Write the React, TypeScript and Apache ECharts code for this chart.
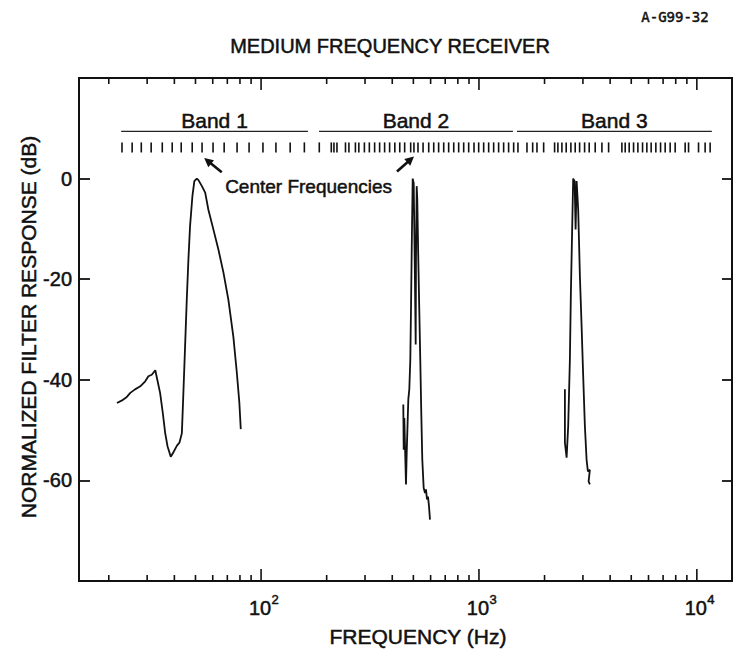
import React, { useEffect, useRef } from "react";
import * as echarts from "echarts";

const FONT = "'Liberation Sans', Arial, Helvetica, sans-serif";
const INK = "#111";
const TEXT_EDGE = 0.5;

// Axis ranges
const X_MIN = 14.6;
const X_MAX = 14500;
const Y_MIN = -80;
const Y_MAX = 20;

// Filter responses: [frequency Hz, normalized response dB]
const band1Response: [number, number][] = [
  [21.8, -44.6], [23.0, -44.1], [24.2, -43.4], [25.1, -42.6], [26.4, -41.9],
  [27.9, -41.3], [29.4, -40.3], [30.4, -39.3], [31.5, -39.0], [32.7, -38.1],
  [33.4, -40.0], [34.4, -42.6], [35.4, -46.6], [36.3, -50.6], [37.2, -53.2],
  [38.5, -55.3], [39.6, -54.4], [41.1, -53.1], [42.2, -52.5], [43.3, -50.6],
  [44.0, -42.6], [44.8, -33.3], [45.6, -24.1], [46.4, -16.1], [47.2, -9.5],
  [48.4, -3.5], [49.4, -0.5], [50.7, 0], [51.6, -0.3], [53.5, -1.5],
  [55.4, -2.8], [57.3, -6.2], [60.4, -10.1], [63.7, -14.1], [67.2, -18.7],
  [70.8, -24.1], [74.6, -31.4], [77.4, -38.6], [79.5, -44.6], [80.7, -49.8],
];

const band2Response: [number, number][] = [
  [449.5, -44.9], [451.4, -53.9], [454.3, -47.6], [462.5, -60.8], [466.0, -54.5],
  [474.0, -43.9], [479.0, -41.9], [484.1, -36.0], [487.6, -26.0], [492.9, -9.5],
  [496.5, 0], [501.8, -0.9], [507.1, -16.1], [512.4, -33.0], [514.0, -16.1],
  [517.9, -1.5], [521.2, -4.2], [526.8, -16.1], [532.2, -26.0], [537.9, -36.0],
  [543.6, -46.6], [549.5, -55.9], [557.6, -61.5], [565.4, -62.5], [571.3, -61.8],
  [577.5, -63.8], [583.6, -63.2], [589.7, -65.1], [596.0, -67.8],
];

const band3Response: [number, number][] = [
  [2480, -41.9], [2480, -52.5], [2525, -55.5], [2568, -49.2], [2614, -36.0],
  [2642, -22.7], [2670, -12.8], [2707, 0], [2748, -0.5], [2777, -10.1],
  [2807, -0.5], [2854, -6.2], [2906, -19.4], [2959, -29.4], [3009, -39.3],
  [3063, -49.2], [3119, -55.9], [3162, -58.2], [3229, -57.9], [3186, -60.2],
  [3229, -60.8],
];

// Filter center frequencies (Hz)
const band1Centers = [
  23.0, 25.6, 28.2, 31.3, 35.2, 39.1, 43.0, 48.3, 53.6, 60.2, 67.7, 77.6, 88.1,
  102, 117, 136, 158,
];
const band2Centers = [
  185, 210, 216, 223, 244, 253, 271, 281, 298, 314, 332, 350, 369, 389, 411, 433,
  456, 486, 503, 525, 554, 588, 620, 653, 689, 726, 766, 807, 851, 897, 949, 997,
  1051, 1108, 1168, 1231, 1298, 1368, 1443,
];
const band3Centers = [
  1510, 1661, 1764, 1846, 1981, 2224, 2303, 2403, 2514, 2642, 2765, 2897, 3054,
  3206, 3416, 3667, 3936, 4529, 4690, 4892, 5124, 5363, 5634, 5896, 6170, 6484,
  6816, 7155, 7543, 7953, 8839, 9162, 10180, 10915, 11510,
];

// Band extents
const bandNames = ["Band 1", "Band 2", "Band 3"];
const bandLowHz = [22.8, 184.5, 1494];
const bandHighHz = [164, 1432, 11720];
const bandLineDb = 9.4;
const bandLabelDb = 11.6;
const centerTickTopDb = 7.2;
const centerTickBottomDb = 5.2;

// "Center Frequencies" callout
const calloutText = "Center Frequencies";
const calloutHz = 68.4;
const calloutDb = -1.6;
const arrowTailHz = [66.0, 420.6];
const arrowTailDb = [1.25, 1.4];
const arrowHeadHz = [54.8, 503.3];
const arrowHeadDb = [4.1, 4.4];

// Frequency axis ticks
const decadeTicks = [100, 1000, 10000];
const decadeExponents = ["2", "3", "4"];
const minorTicks = [
  20, 30, 40, 50, 60, 70, 80, 90,
  200, 300, 400, 500, 600, 700, 800, 900,
  2000, 3000, 4000, 5000, 6000, 7000, 8000, 9000,
];

const stroke = (w: number) => ({ stroke: INK, lineWidth: w });

// text style with a thin outline so glyphs read as heavy print
const textStyle = (text: string, x: number, y: number, size: number, align: string, family = FONT) => ({
  text,
  x,
  y,
  textAlign: align,
  textVerticalAlign: "middle",
  font: `${size}px ${family}`,
  fill: INK,
  stroke: INK,
  lineWidth: TEXT_EDGE,
});

export default function App() {
  const ref = useRef<HTMLDivElement>(null);

  useEffect(() => {
    if (!ref.current) return;
    const chart = echarts.init(ref.current, null, { renderer: "svg" });

    const curve = (data: [number, number][]) => ({
      type: "line",
      data,
      showSymbol: false,
      symbol: "none",
      silent: true,
      lineStyle: { color: INK, width: 1.8 },
      z: 3,
    });

    const xTickData = [
      ...decadeTicks.map((f) => [f, 1]),
      ...minorTicks.map((f) => [f, 0]),
    ];

    const allCenters = [...band1Centers, ...band2Centers, ...band3Centers].map((f) => [f, 0]);

    const option: any = {
      animation: false,
      backgroundColor: "#fff",
      grid: {
        left: 79,
        right: 1,
        top: 78,
        bottom: 72,
        show: true,
        borderColor: INK,
        borderWidth: 2,
        backgroundColor: "transparent",
      },
      xAxis: {
        type: "log",
        logBase: 10,
        min: X_MIN,
        max: X_MAX,
        axisLine: { show: false },
        axisTick: { show: false },
        axisLabel: { show: false },
        splitLine: { show: false },
      },
      yAxis: [
        {
          type: "value",
          min: Y_MIN,
          max: Y_MAX,
          interval: 20,
          axisLine: { show: false },
          axisTick: { show: true, inside: true, length: 11, lineStyle: { color: INK, width: 1.8 } },
          axisLabel: {
            margin: 7,
            color: INK,
            fontFamily: FONT,
            fontSize: 20,
            textBorderColor: INK,
            textBorderWidth: TEXT_EDGE,
            formatter: (v: number) => (v === Y_MAX || v === Y_MIN ? "" : String(v)),
          },
          splitLine: { show: false },
        },
        {
          type: "value",
          position: "right",
          min: Y_MIN,
          max: Y_MAX,
          interval: 20,
          axisLine: { show: false },
          axisTick: { show: true, inside: true, length: 10, lineStyle: { color: INK, width: 1.8 } },
          axisLabel: { show: false },
          splitLine: { show: false },
        },
      ],
      series: [
        curve(band1Response),
        curve(band2Response),
        curve(band3Response),
        {
          // frequency ticks on bottom and top edges
          type: "custom",
          silent: true,
          data: xTickData,
          renderItem: (_p: any, api: any) => {
            const f = api.value(0);
            const len = api.value(1) === 1 ? 12 : 6;
            const b = api.coord([f, Y_MIN]);
            const t = api.coord([f, Y_MAX]);
            return {
              type: "group",
              children: [
                { type: "line", shape: { x1: b[0], y1: b[1], x2: b[0], y2: b[1] - len }, style: stroke(1.6) },
                { type: "line", shape: { x1: t[0], y1: t[1], x2: t[0], y2: t[1] + len }, style: stroke(1.6) },
              ],
            };
          },
        },
        {
          // decade labels 10^n
          type: "custom",
          silent: true,
          data: decadeTicks.map((f) => [f, 0]),
          renderItem: (p: any, api: any) => {
            const pt = api.coord([api.value(0), Y_MIN]);
            return {
              type: "group",
              children: [
                { type: "text", style: textStyle("10", pt[0] - 1, pt[1] + 27, 20, "center") },
                {
                  type: "text",
                  style: textStyle(decadeExponents[p.dataIndex], pt[0] + 10.5, pt[1] + 18, 13, "left"),
                },
              ],
            };
          },
        },
        {
          // center-frequency tick marks
          type: "custom",
          silent: true,
          data: allCenters,
          renderItem: (_p: any, api: any) => {
            const f = api.value(0);
            const a = api.coord([f, centerTickTopDb]);
            const b = api.coord([f, centerTickBottomDb]);
            return { type: "line", shape: { x1: a[0], y1: a[1], x2: b[0], y2: b[1] }, style: stroke(1.6) };
          },
        },
        {
          // band extent lines and labels
          type: "custom",
          silent: true,
          data: bandNames.map((_n, i) => [bandLowHz[i], bandHighHz[i]]),
          renderItem: (p: any, api: any) => {
            const lo = api.value(0);
            const hi = api.value(1);
            const a = api.coord([lo, bandLineDb]);
            const b = api.coord([hi, bandLineDb]);
            const c = api.coord([Math.sqrt(lo * hi), bandLabelDb]);
            return {
              type: "group",
              children: [
                { type: "line", shape: { x1: a[0], y1: a[1], x2: b[0], y2: b[1] }, style: { stroke: "#222", lineWidth: 1.2 } },
                { type: "text", style: textStyle(bandNames[p.dataIndex], c[0], c[1], 21, "center") },
              ],
            };
          },
        },
        {
          // callout text
          type: "custom",
          silent: true,
          data: [[calloutHz, calloutDb]],
          renderItem: (_p: any, api: any) => {
            const c = api.coord([api.value(0), api.value(1)]);
            return { type: "text", style: textStyle(calloutText, c[0], c[1], 19, "left") };
          },
        },
        {
          // callout arrows
          type: "custom",
          silent: true,
          data: arrowTailHz.map((f, i) => [f, arrowTailDb[i], arrowHeadHz[i], arrowHeadDb[i]]),
          renderItem: (_p: any, api: any) => {
            const a = api.coord([api.value(0), api.value(1)]);
            const h = api.coord([api.value(2), api.value(3)]);
            const dx = h[0] - a[0];
            const dy = h[1] - a[1];
            const L = Math.hypot(dx, dy) || 1;
            const ux = dx / L;
            const uy = dy / L;
            const headLen = 9;
            const headW = 4.5;
            const bx = h[0] - ux * headLen;
            const by = h[1] - uy * headLen;
            return {
              type: "group",
              children: [
                { type: "line", shape: { x1: a[0], y1: a[1], x2: bx + ux, y2: by + uy }, style: stroke(2.6) },
                {
                  type: "polygon",
                  shape: {
                    points: [
                      [h[0], h[1]],
                      [bx - uy * headW, by + ux * headW],
                      [bx + uy * headW, by - ux * headW],
                    ],
                  },
                  style: { fill: INK },
                },
              ],
            };
          },
        },
      ],
      graphic: [
        {
          type: "text",
          x: 390,
          y: 46,
          style: textStyle("MEDIUM FREQUENCY RECEIVER", 0, 0, 20, "center"),
        },
        {
          type: "text",
          x: 675,
          y: 17,
          style: textStyle("A-G99-32", 0, 0, 14, "center", "'DejaVu Sans Mono', monospace"),
        },
        {
          type: "text",
          x: 418,
          y: 636,
          style: textStyle("FREQUENCY (Hz)", 0, 0, 21, "center"),
        },
        {
          type: "text",
          x: 28,
          y: 327,
          rotation: Math.PI / 2,
          style: textStyle("NORMALIZED FILTER RESPONSE (dB)", 0, 0, 21, "center"),
        },
      ],
    };

    chart.setOption(option);
    return () => chart.dispose();
  }, []);

  return (
    <div
      ref={ref}
      style={{ position: "fixed", left: 0, top: 0, width: 733, height: 653, background: "#fff" }}
    />
  );
}
